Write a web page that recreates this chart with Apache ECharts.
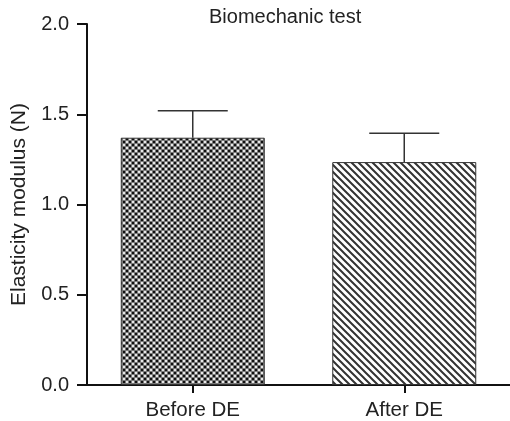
<!DOCTYPE html>
<html>
<head>
<meta charset="utf-8">
<script src="https://cdn.jsdelivr.net/npm/echarts@6/dist/echarts.min.js"></script>
<style>html,body{margin:0;padding:0;background:#fff;}#c{width:510px;height:421px;}</style>
</head>
<body>
<div id="c"></div>
<script>
var categories = ['Before DE', 'After DE'];
var means = [1.37, 1.235];
var errUpper = [1.52, 1.395];
var yTicks = [0, 0.5, 1.0, 1.5, 2.0];

function checkerPattern() {
  var c = document.createElement('canvas');
  c.width = 6; c.height = 6;
  var g = c.getContext('2d');
  g.fillStyle = '#7a7a7a'; g.fillRect(0, 0, 6, 6);
  g.fillStyle = '#111'; g.fillRect(0, 0, 2, 2); g.fillRect(3, 3, 2, 2);
  g.fillStyle = '#e8e8e8'; g.fillRect(3, 0, 2, 2); g.fillRect(0, 3, 2, 2);
  return c;
}
function hatchPattern() {
  var c = document.createElement('canvas');
  c.width = 7; c.height = 7;
  var g = c.getContext('2d');
  g.fillStyle = '#fff'; g.fillRect(0, 0, 7, 7);
  g.strokeStyle = '#333'; g.lineWidth = 2;
  g.beginPath();
  g.moveTo(-1, -1); g.lineTo(8, 8);
  g.moveTo(-8, -1); g.lineTo(1, 8);
  g.moveTo(6, -1); g.lineTo(15, 8);
  g.stroke();
  return c;
}

var chart = echarts.init(document.getElementById('c'), null, {renderer: 'canvas'});
var fills = [{image: checkerPattern(), repeat: 'repeat'}, {image: hatchPattern(), repeat: 'repeat'}];

chart.setOption({
  animation: false,
  backgroundColor: '#fff',
  title: {
    text: 'Biomechanic test',
    left: 204, top: 2,
    textStyle: {fontFamily: 'Liberation Sans', fontSize: 20, fontWeight: 'normal', color: '#222'}
  },
  grid: {left: 87, right: -5, top: 24, bottom: 36, containLabel: false},
  xAxis: {
    type: 'category',
    data: categories,
    axisLine: {lineStyle: {color: '#111', width: 2}},
    axisTick: {show: true, alignWithLabel: true, length: 8, lineStyle: {color: '#111', width: 2}},
    axisLabel: {fontFamily: 'Liberation Sans', fontSize: 20.5, color: '#222', margin: 15, interval: 0}
  },
  yAxis: {
    type: 'value',
    min: yTicks[0], max: yTicks[yTicks.length - 1], interval: 0.5,
    name: 'Elasticity modulus (N)',
    nameLocation: 'middle',
    nameGap: 57,
    nameTextStyle: {fontFamily: 'Liberation Sans', fontSize: 21, color: '#222'},
    axisLine: {show: true, lineStyle: {color: '#111', width: 2}},
    axisTick: {show: true, length: 10, lineStyle: {color: '#111', width: 2}},
    splitLine: {show: false},
    axisLabel: {fontFamily: 'Liberation Sans', fontSize: 20, color: '#222', margin: 18,
      formatter: function (v) { return v.toFixed(1); }}
  },
  series: [
    {
      type: 'bar',
      barWidth: 144,
      data: means.map(function (v, i) {
        return {value: v, itemStyle: {color: fills[i], borderColor: '#333', borderWidth: 1}};
      }),
      z: 2
    },
    {
      type: 'custom',
      z: 3,
      data: means.map(function (v, i) { return [i, v, errUpper[i]]; }),
      renderItem: function (params, api) {
        var x = api.value(0);
        var p0 = api.coord([x, api.value(1)]);
        var p1 = api.coord([x, api.value(2)]);
        var half = 35;
        var st = {stroke: '#333', lineWidth: 1.5};
        return {
          type: 'group',
          children: [
            {type: 'line', shape: {x1: p0[0], y1: p0[1], x2: p1[0], y2: p1[1]}, style: st},
            {type: 'line', shape: {x1: p1[0] - half, y1: p1[1], x2: p1[0] + half, y2: p1[1]}, style: st}
          ]
        };
      }
    }
  ]
});
</script>
</body>
</html>
